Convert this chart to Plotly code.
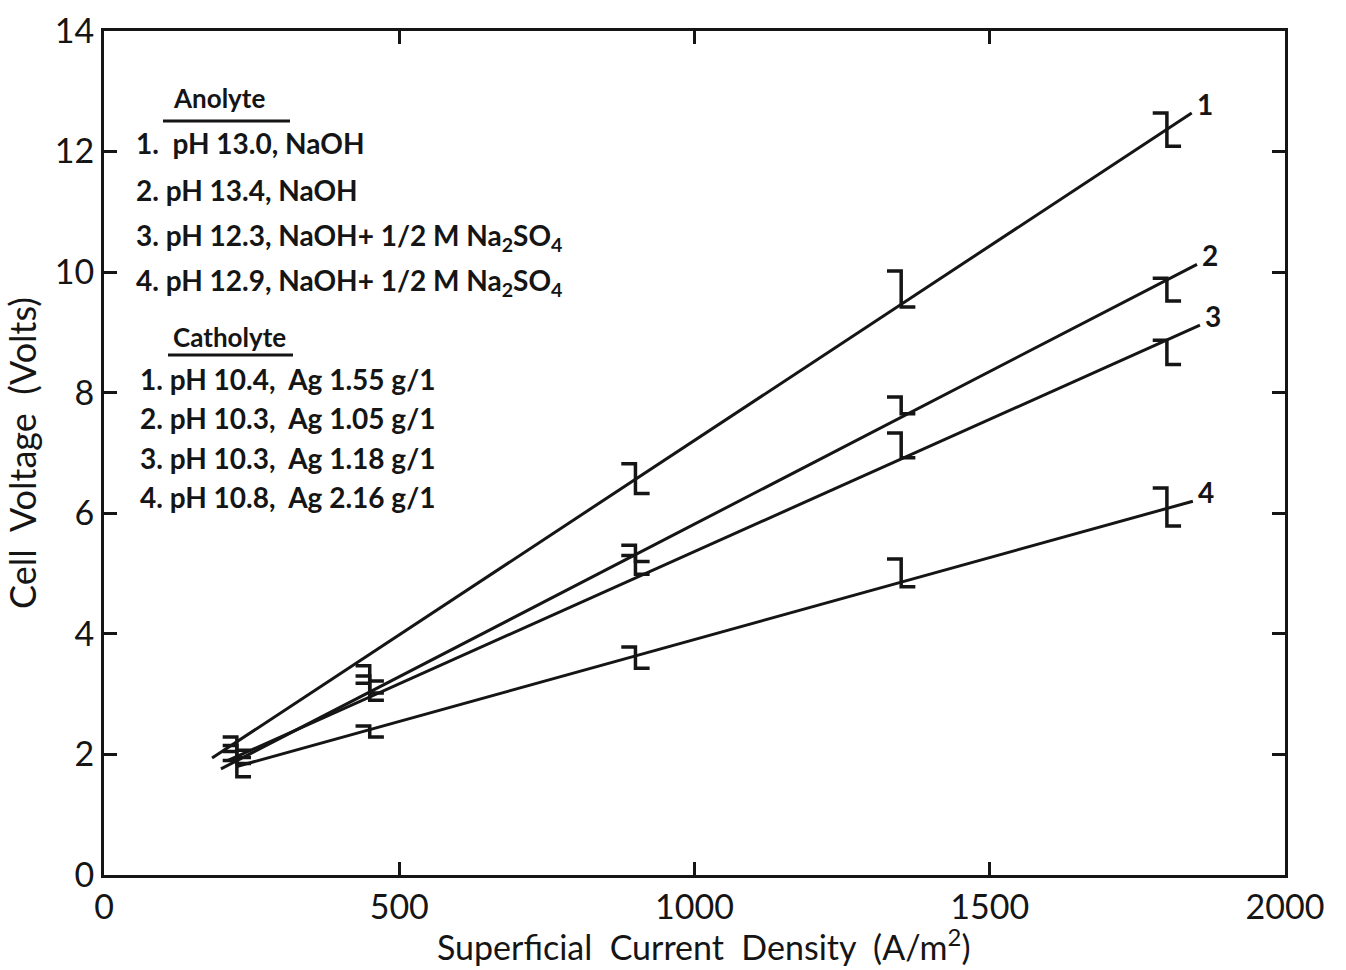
import plotly.graph_objects as go

# ---- data ----
series_names = ["1", "2", "3", "4"]
bar_x = [225, 450, 900, 1350, 1800]
bar_lo = [
    [2.07, 3.22, 6.33, 9.42, 12.09],
    [1.95, 3.02, 5.20, 7.65, 9.52],
    [1.85, 2.90, 4.99, 6.92, 8.47],
    [1.63, 2.29, 3.43, 4.78, 5.79],
]
bar_hi = [
    [2.29, 3.47, 6.82, 10.02, 12.64],
    [2.15, 3.30, 5.47, 7.93, 9.90],
    [2.05, 3.18, 5.30, 7.33, 8.87],
    [1.90, 2.47, 3.78, 5.24, 6.42],
]
fit_x_start = [183, 198, 210, 225]
fit_x_end = [1842, 1851, 1856, 1844]
fit_y_start = [1.94, 1.76, 1.90, 1.80]
fit_y_end = [12.64, 10.13, 9.12, 6.20]

x_ticks = [0, 500, 1000, 1500, 2000]
x_ticklabels = ["0", "500", "1000", "1500", "2000"]
y_ticks = [0, 2, 4, 6, 8, 10, 12, 14]
y_ticklabels = ["0", "2", "4", "6", "8", "10", "12", "14"]

x_title = "Superficial  Current  Density  (A/m<sup>2</sup>)"
y_title = "Cell  Voltage  (Volts)"

anolyte_lines = [
    "1.  pH 13.0, NaOH",
    "2. pH 13.4, NaOH",
    "3. pH 12.3, NaOH+ 1/2 M Na<sub>2</sub>SO<sub>4</sub>",
    "4. pH 12.9, NaOH+ 1/2 M Na<sub>2</sub>SO<sub>4</sub>",
]
catholyte_lines = [
    "1. pH 10.4,  Ag 1.55 g/1",
    "2. pH 10.3,  Ag 1.05 g/1",
    "3. pH 10.3,  Ag 1.18 g/1",
    "4. pH 10.8,  Ag 2.16 g/1",
]

# ---- style ----
INK = "#151515"
FONT = "Lato"
SERIF = 24  # serif half-length of bracket, in x data units
LW = 3

fig = go.Figure()

# fitted lines
for i in range(4):
    fig.add_trace(go.Scatter(
        x=[fit_x_start[i], fit_x_end[i]],
        y=[fit_y_start[i], fit_y_end[i]],
        mode="lines", line=dict(color=INK, width=LW),
        showlegend=False, hoverinfo="skip"))

# bracket-style error bars: top serif to the left, bottom serif to the right
for i in range(4):
    bx, by = [], []
    for x, lo, hi in zip(bar_x, bar_lo[i], bar_hi[i]):
        bx += [x - SERIF, x, x, x + SERIF, None]
        by += [hi, hi, lo, lo, None]
    fig.add_trace(go.Scatter(
        x=bx, y=by, mode="lines",
        line=dict(color=INK, width=LW + 0.5),
        showlegend=False, hoverinfo="skip", connectgaps=False))

# curve labels
for i in range(4):
    fig.add_annotation(
        x=fit_x_end[i], y=fit_y_end[i], text=series_names[i],
        showarrow=False, xanchor="left", yanchor="bottom",
        xshift=3, yshift=-10,
        font=dict(family=FONT, size=28, color=INK, weight="bold"))

# legend text block
def paper_x(px):
    return (px - 104) / 1181

def paper_y(py):
    return (875 - py) / 844

fig.add_annotation(xref="paper", yref="paper", x=paper_x(219), y=paper_y(98),
                   text="Anolyte", showarrow=False, xanchor="center", yanchor="middle",
                   font=dict(family=FONT, size=26, color=INK, weight="bold"))
fig.add_shape(type="line", xref="paper", yref="paper",
              x0=paper_x(163), x1=paper_x(290), y0=paper_y(121), y1=paper_y(121),
              line=dict(color=INK, width=3))
for k, (t, py) in enumerate(zip(anolyte_lines, [143, 190, 237, 282])):
    fig.add_annotation(xref="paper", yref="paper", x=paper_x(134), y=paper_y(py),
                       text=t, showarrow=False, xanchor="left", yanchor="middle",
                       font=dict(family=FONT, size=28, color=INK, weight="bold"))

fig.add_annotation(xref="paper", yref="paper", x=paper_x(229), y=paper_y(337),
                   text="Catholyte", showarrow=False, xanchor="center", yanchor="middle",
                   font=dict(family=FONT, size=26, color=INK, weight="bold"))
fig.add_shape(type="line", xref="paper", yref="paper",
              x0=paper_x(168), x1=paper_x(293), y0=paper_y(355), y1=paper_y(355),
              line=dict(color=INK, width=3))
for k, (t, py) in enumerate(zip(catholyte_lines, [379, 418, 458, 497])):
    fig.add_annotation(xref="paper", yref="paper", x=paper_x(138), y=paper_y(py),
                       text=t, showarrow=False, xanchor="left", yanchor="middle",
                       font=dict(family=FONT, size=28, color=INK, weight="bold"))

# x-axis title as an annotation below the tick labels
fig.add_annotation(xref="paper", yref="paper", x=paper_x(703), y=0,
                   text=x_title, showarrow=False, xanchor="center", yanchor="middle",
                   yshift=-70, font=dict(family=FONT, size=34, color=INK))

axis_common = dict(
    showgrid=False, zeroline=False, showline=True, linecolor=INK, linewidth=3,
    mirror="allticks", ticks="inside", ticklen=13, tickwidth=3, tickcolor=INK,
    tickfont=dict(family=FONT, size=34, color=INK), automargin=False,
)

fig.update_xaxes(range=[0, 2000], tickvals=x_ticks, ticktext=x_ticklabels,
                 **axis_common)
fig.update_yaxes(range=[0, 14], tickvals=y_ticks, ticktext=y_ticklabels,
                 title=dict(text=y_title,
                            font=dict(family=FONT, size=36, color=INK), standoff=12),
                 **axis_common)

fig.update_layout(
    width=1346, height=970,
    margin=dict(l=104, r=61, t=31, b=95),
    paper_bgcolor="white", plot_bgcolor="white",
    showlegend=False,
)

fig.write_html("out.html")
